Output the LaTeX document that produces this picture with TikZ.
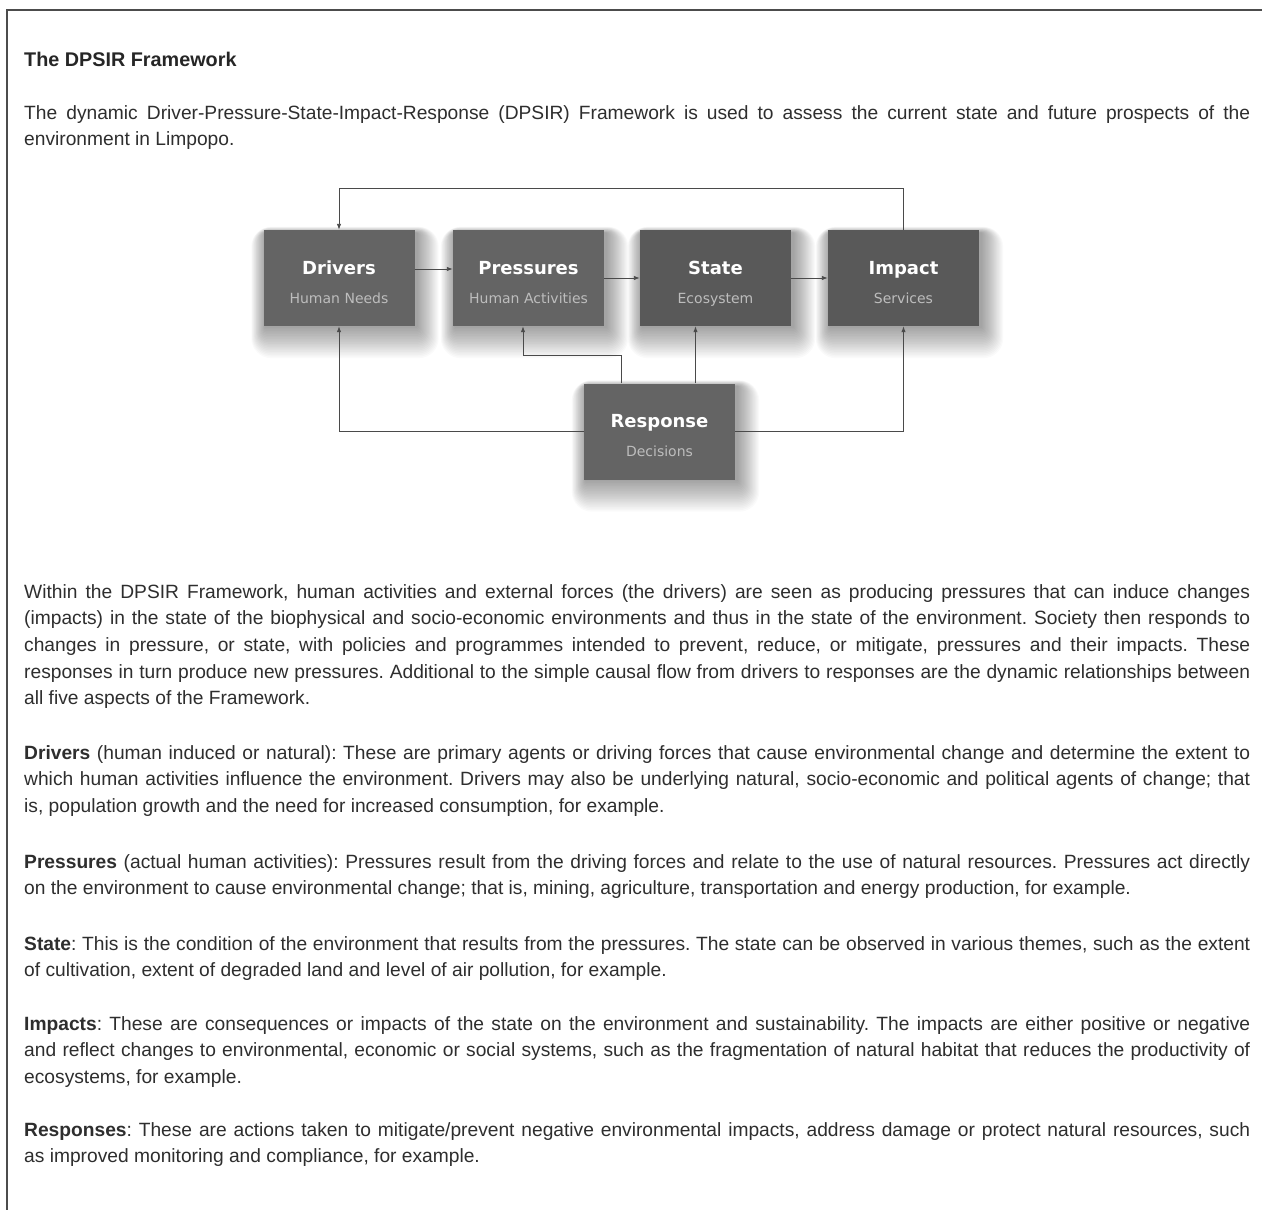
\documentclass[tikz,border=0pt]{standalone}
\usepackage{fontspec}
\setmainfont{Liberation Sans}
\newfontfamily\boxfont{DejaVu Sans}
\usepackage{tikz}
\usetikzlibrary{arrows.meta}
\frenchspacing

\definecolor{txt}{HTML}{2E2E2E}
\definecolor{boxdark}{HTML}{595959}
\definecolor{boxlight}{HTML}{646464}
\definecolor{sublabel}{HTML}{BDBDBD}
\definecolor{linegray}{HTML}{4A4A4A}

\pgfdeclarelayer{background}
\pgfsetlayers{background,main}

\tikzset{
	para/.style={anchor=north west, inner sep=0pt, text width=1226pt, align=justify, text=txt, font=\fontsize{19.2}{26.6}\selectfont},
	dpsir/.style={fill=#1, minimum width=151pt, minimum height=96pt, inner sep=0pt, align=center, text=white, font=\boxfont\fontsize{18}{20}\selectfont},
	flow/.style={draw=linegray, line width=0.9pt, -{Latex[length=6pt,width=4.5pt]}}
}
\newcommand{\boxtext}[2]{\rule{0pt}{24pt}{\bfseries #1}\\[9pt]{\fontsize{14}{16}\selectfont\color{sublabel}#2\rule[-3pt]{0pt}{3pt}}}

\begin{document}
\begin{tikzpicture}[x=1pt,y=-1pt]
		\useasboundingbox (0,0) rectangle (1262,1210);
		\begin{pgfonlayer}{background}
			\fill[white] (0,0) rectangle (1262,1210);
		\end{pgfonlayer}
		\draw[line width=1.5pt, black!70] (7,1210) -- (7,10) -- (1262,10);
		% heading and intro
		\node[anchor=base west, inner sep=0pt, text=black!85, font=\fontsize{19.8}{22}\selectfont\bfseries] (title) at (24,66) {The DPSIR Framework};
		\node[para] (intro) at (24,100.4) {\strut The dynamic Driver-Pressure-State-Impact-Response (DPSIR) Framework is used to assess the current state and future prospects of the\linebreak environment in Limpopo.};
		% the five boxes
		\node[dpsir=boxlight] (drivers) at (339,278) {\boxtext{Drivers}{Human Needs}};
		\node[dpsir=boxlight] (pressures) at (528.5,278) {\boxtext{Pressures}{Human Activities}};
		\node[dpsir=boxdark] (state) at (715.5,278) {\boxtext{State}{Ecosystem}};
		\node[dpsir=boxdark] (impact) at (903.5,278) {\boxtext{Impact}{Services}};
		\node[dpsir=boxlight] (response) at (659.5,431.5) {\boxtext{Response}{Decisions}};
		% soft shadows
		\begin{pgfonlayer}{background}
			\foreach \n in {drivers,pressures,state,impact,response}
				\foreach \r in {1,...,20}
					\fill[black, opacity=0.02, rounded corners=\r pt] ([xshift=-\r*0.7pt+2pt, yshift=-\r*1.6pt]\n.south west) rectangle ([xshift=\r*1.1pt+2pt, yshift=\r*0.3pt-3pt]\n.north east);
		\end{pgfonlayer}
		\coordinate (loop) at (339,188);
		\coordinate (back) at (523,355);
		\draw[flow] (impact.north) |- (loop) -- (drivers.north);
		\draw[flow] ([yshift=9pt]drivers.east) -- ([yshift=9pt]pressures.west);
		\draw[flow] (pressures.east) -- (state.west);
		\draw[flow] (state.east) -- (impact.west);
		\draw[flow] ([xshift=-38pt]response.north) |- (back) -- (back |- pressures.south);
		\draw[flow] ([xshift=36pt]response.north) -- ([xshift=36pt]response.north |- state.south);
		\draw[flow] (response.west) -| (drivers.south);
		\draw[flow] (response.east) -| (impact.south);
		% text below the figure
		\node[para] (body) at (24,579.4) {\strut Within the DPSIR Framework, human activities and external forces (the drivers) are seen as producing pressures that can induce changes\linebreak (impacts) in the state of the biophysical and socio-economic environments and thus in the state of the environment. Society then responds to\linebreak changes in pressure, or state, with policies and programmes intended to prevent, reduce, or mitigate, pressures and their impacts. These\linebreak responses in turn produce new pressures. Additional to the simple causal flow from drivers to responses are the dynamic relationships between\linebreak all five aspects of the Framework.};
		\node[para] (ddrivers) at (24,740.4) {\strut\textbf{Drivers} (human induced or natural): These are primary agents or driving forces that cause environmental change and determine the extent to\linebreak which human activities influence the environment. Drivers may also be underlying natural, socio-economic and political agents of change; that\linebreak is, population growth and the need for increased consumption, for example.};
		\node[para] (dpressures) at (24,849.4) {\strut\textbf{Pressures} (actual human activities): Pressures result from the driving forces and relate to the use of natural resources. Pressures act directly\linebreak on the environment to cause environmental change; that is, mining, agriculture, transportation and energy production, for example.};
		\node[para] (dstate) at (24,931.4) {\strut\textbf{State}: This is the condition of the environment that results from the pressures. The state can be observed in various themes, such as the extent\linebreak of cultivation, extent of degraded land and level of air pollution, for example.};
		\node[para] (dimpacts) at (24,1011.4) {\strut\textbf{Impacts}: These are consequences or impacts of the state on the environment and sustainability. The impacts are either positive or negative\linebreak and reflect changes to environmental, economic or social systems, such as the fragmentation of natural habitat that reduces the productivity of\linebreak ecosystems, for example.};
		\node[para] (dresponses) at (24,1117.4) {\strut\textbf{Responses}: These are actions taken to mitigate/prevent negative environmental impacts, address damage or protect natural resources, such\linebreak as improved monitoring and compliance, for example.};
\end{tikzpicture}
\end{document}
